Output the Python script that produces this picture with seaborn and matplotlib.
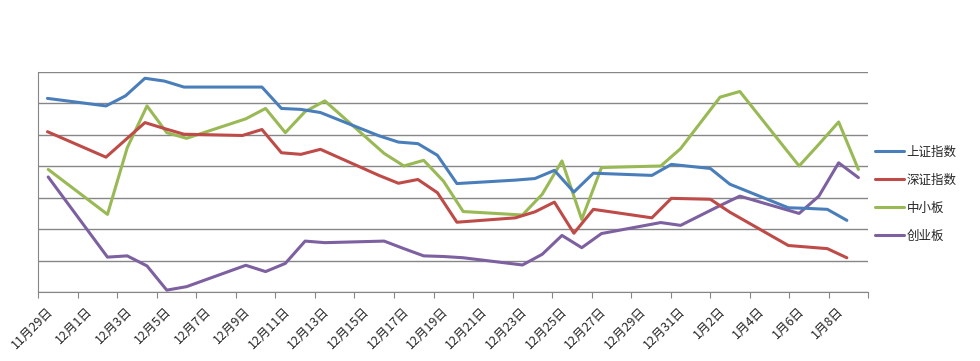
import pandas as pd
import seaborn as sns
import matplotlib
matplotlib.use('Agg')
import matplotlib.pyplot as plt
import matplotlib.transforms as mtransforms

# trading days
dates = ['2013-11-29', '2013-12-02', '2013-12-03', '2013-12-04', '2013-12-05',
         '2013-12-06', '2013-12-09', '2013-12-10', '2013-12-11', '2013-12-12',
         '2013-12-13', '2013-12-16', '2013-12-17', '2013-12-18', '2013-12-19',
         '2013-12-20', '2013-12-23', '2013-12-24', '2013-12-25', '2013-12-26',
         '2013-12-27', '2013-12-30', '2013-12-31', '2014-01-02', '2014-01-03',
         '2014-01-06', '2014-01-07', '2014-01-08', '2014-01-09']

shangzheng = [6.16, 5.92, 6.24, 6.80, 6.71, 6.52, 6.52, 6.52, 5.84, 5.81,
              5.71, 4.97, 4.77, 4.72, 4.35, 3.45, 3.56, 3.61, 3.87, 3.18,
              3.78, 3.71, 4.06, 3.93, 3.43, 2.68, 2.66, 2.63, 2.28]
shenzheng = [5.10, 4.29, 4.84, 5.39, 5.20, 5.02, 4.98, 5.17, 4.43, 4.38,
             4.54, 3.71, 3.46, 3.58, 3.16, 2.22, 2.36, 2.55, 2.86, 1.87,
             2.63, 2.36, 2.98, 2.95, 2.54, 1.48, 1.43, 1.38, 1.09]
zhongxiao = [3.90, 2.47, 4.59, 5.92, 5.07, 4.89, 5.51, 5.84, 5.07, 5.74,
             6.08, 4.41, 4.01, 4.19, 3.53, 2.56, 2.45, 3.11, 4.17, 2.31,
             3.96, 4.01, 4.56, 6.20, 6.38, 4.01, 4.70, 5.41, 3.90]
chuangye = [3.66, 1.11, 1.15, 0.83, 0.06, 0.17, 0.85, 0.65, 0.91, 1.62,
            1.57, 1.62, 1.38, 1.15, 1.13, 1.09, 0.86, 1.20, 1.80, 1.41,
            1.86, 2.21, 2.12, 2.75, 3.05, 2.50, 3.05, 4.11, 3.64]

names = ['上证指数', '深证指数', '中小板', '创业板']
colors = ['#4A7EBB', '#BE4B48', '#98B954', '#7D60A0']

d = pd.to_datetime(pd.Series(dates))
start = d.iloc[0]
day = (d - start).dt.days

df = pd.DataFrame({'day': day, names[0]: shangzheng, names[1]: shenzheng,
                   names[2]: zhongxiao, names[3]: chuangye})
df = df.melt(id_vars='day', var_name='series', value_name='value')

sns.set_style('white')
plt.rcParams['font.family'] = ['Noto Sans CJK SC', 'DejaVu Sans']

grey = '#868686'
fig = plt.figure(figsize=(9.8, 3.61), dpi=100)
ax = fig.add_axes([0.0391, 0.1911, 0.8469, 0.6095])

# 中小板 / 创业板 on the main axis
sub1 = df[df['series'].isin(names[2:])]
sns.lineplot(data=sub1, x='day', y='value', hue='series', hue_order=names[2:],
             palette=colors[2:], linewidth=2.2, ax=ax)

# 上证 / 深证 on a secondary (hidden) date axis
ax2 = ax.twiny()
sub2 = df[df['series'].isin(names[:2])]
sns.lineplot(data=sub2, x='day', y='value', hue='series', hue_order=names[:2],
             palette=colors[:2], linewidth=2.2, ax=ax2)

h1, l1 = ax.get_legend_handles_labels()
h2, l2 = ax2.get_legend_handles_labels()
ax.get_legend().remove()
ax2.get_legend().remove()

ax.set_ylim(0, 7)
ax.set_xlim(-0.5, 41.5)
ax2.set_xlim(-0.47, 42.1)
ax2.set_xticks([])
ax2.set_xlabel('')
for s in ax2.spines.values():
    s.set_visible(False)

ax.yaxis.grid(True, color=grey, linewidth=1)
ax.xaxis.grid(False)
ax.set_axisbelow(True)
ax.tick_params(axis='x', direction='out', length=4, color=grey, pad=3)
ax.tick_params(axis='y', direction='out', length=4, color=grey)
ax.spines['top'].set_visible(False)
ax.spines['right'].set_visible(False)
ax.spines['left'].set_color(grey)
ax.spines['bottom'].set_color(grey)

ticks = [k - 0.5 for k in range(0, 42, 2)] + [41.5]
labels = []
for k in range(0, 42, 2):
    t = start + pd.Timedelta(days=k)
    labels.append(f'{t.month}月{t.day}日')
labels.append('')
ax.set_xticks(ticks)
ax.set_xticklabels(labels, rotation=45, ha='right', va='top',
                   rotation_mode='anchor', fontsize=9)
ax.set_yticks(range(0, 8))
ax.set_yticklabels([])
ax.set_xlabel('')
ax.set_ylabel('')

# nudge the rotated date labels like the original
shift = mtransforms.ScaledTranslation(0.08, -0.03, fig.dpi_scale_trans)
for lab in ax.xaxis.get_majorticklabels():
    lab.set_transform(lab.get_transform() + shift)

fig.legend(h2 + h1, l2 + l1, loc='center left', bbox_to_anchor=(0.893, 0.462),
           frameon=False, fontsize=9, handlelength=2.3, handletextpad=0.2,
           labelspacing=1.2, borderpad=0, borderaxespad=0)

fig.savefig('out.png', dpi=100)
